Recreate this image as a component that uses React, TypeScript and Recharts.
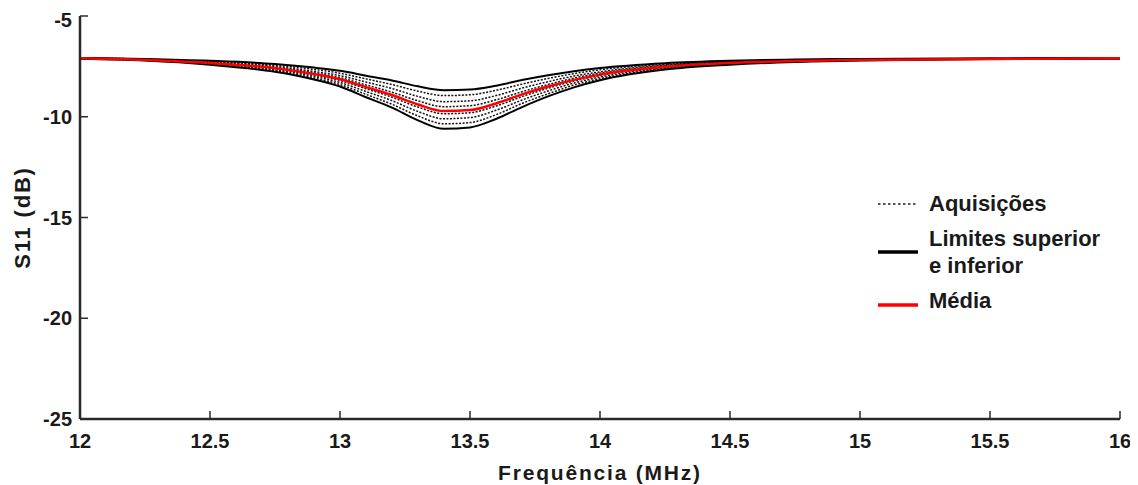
import { Legend, Line, LineChart, XAxis, YAxis } from 'recharts';

const frequencias = [
  12, 12.25, 12.5, 12.75, 12.9, 13, 13.1, 13.2, 13.3, 13.4, 13.5, 13.6, 13.7,
  13.8, 13.9, 14, 14.25, 14.5, 14.75, 15, 15.5, 16,
];

const limiteSuperior = [
  -7.08, -7.13, -7.22, -7.38, -7.56, -7.72, -7.96, -8.2, -8.49, -8.68, -8.65,
  -8.46, -8.18, -7.94, -7.74, -7.58, -7.34, -7.22, -7.16, -7.13, -7.1, -7.08,
];
const limiteInferior = [
  -7.12, -7.21, -7.42, -7.77, -8.15, -8.5, -9.03, -9.55, -10.18, -10.6, -10.53,
  -10.11, -9.52, -8.99, -8.54, -8.19, -7.66, -7.42, -7.28, -7.21, -7.14, -7.12,
];
const media = [
  -7.1, -7.18, -7.33, -7.59, -7.88, -8.14, -8.53, -8.92, -9.39, -9.72, -9.67,
  -9.34, -8.89, -8.5, -8.17, -7.91, -7.52, -7.33, -7.23, -7.18, -7.13, -7.1,
];

const aquisicao1 = [
  -7.08, -7.14, -7.27, -7.45, -7.65, -7.84, -8.12, -8.4, -8.73, -8.95, -8.91,
  -8.69, -8.38, -8.1, -7.86, -7.67, -7.4, -7.27, -7.19, -7.15, -7.12, -7.1,
];
const aquisicao2 = [
  -7.1, -7.16, -7.29, -7.51, -7.75, -7.96, -8.28, -8.6, -8.99, -9.25, -9.21,
  -8.95, -8.58, -8.26, -7.98, -7.77, -7.44, -7.29, -7.21, -7.16, -7.12, -7.1,
];
const aquisicao3 = [
  -7.1, -7.17, -7.32, -7.56, -7.82, -8.06, -8.42, -8.78, -9.21, -9.5, -9.45,
  -9.16, -8.76, -8.4, -8.08, -7.84, -7.48, -7.32, -7.22, -7.17, -7.12, -7.1,
];
const aquisicao4 = [
  -7.1, -7.18, -7.35, -7.62, -7.93, -8.2, -8.61, -9.03, -9.52, -9.85, -9.8,
  -9.47, -9.0, -8.59, -8.23, -7.95, -7.54, -7.35, -7.24, -7.18, -7.13, -7.1,
];
const aquisicao5 = [
  -7.11, -7.19, -7.37, -7.67, -8.0, -8.3, -8.75, -9.2, -9.74, -10.1, -10.04,
  -9.68, -9.17, -8.72, -8.33, -8.03, -7.58, -7.37, -7.25, -7.19, -7.13, -7.11,
];
const aquisicao6 = [
  -7.11, -7.2, -7.39, -7.72, -8.08, -8.4, -8.89, -9.38, -9.96, -10.35, -10.29,
  -9.9, -9.34, -8.86, -8.43, -8.11, -7.62, -7.39, -7.26, -7.2, -7.13, -7.11,
];

const aquisicoes = [aquisicao1, aquisicao2, aquisicao3, aquisicao4, aquisicao5, aquisicao6];

const ticksX = [12, 12.5, 13, 13.5, 14, 14.5, 15, 15.5, 16];
const ticksY = [-25, -20, -15, -10, -5];

const dados = frequencias.map((f, i) => {
  const linha: Record<string, number> = {
    f,
    sup: limiteSuperior[i],
    inf: limiteInferior[i],
    media: media[i],
  };
  aquisicoes.forEach((a, k) => {
    linha['a' + k] = a[i];
  });
  return linha;
});

const fonte = '"Liberation Sans", Arial, sans-serif';
const corEixo = '#2a2a2a';
const corTexto = '#1a1a1a';
const estiloTick = { fill: corTexto, fontSize: 20, fontWeight: 'bold', fontFamily: fonte };
const estiloRotulo = { fill: corTexto, fontSize: 21, fontWeight: 'bold', fontFamily: fonte };

const LegendaGrafico = () => {
  const texto = { fontFamily: fonte, fontWeight: 'bold', fontSize: 22, color: corTexto, lineHeight: '27px' } as const;
  const amostra = (cor: string, tracejado?: string, desloc = 0) => (
    <svg width={40} height={6} style={{ marginRight: 11, flexShrink: 0, position: 'relative', top: desloc }}>
      <line x1={0} y1={3} x2={40} y2={3} stroke={cor} strokeWidth={tracejado ? 2 : 3.5} strokeDasharray={tracejado} />
    </svg>
  );
  return (
    <div style={{ display: 'flex', flexDirection: 'column', gap: 8 }}>
      <div style={{ display: 'flex', alignItems: 'center' }}>
        {amostra('#555', '2.5 2.5')}
        <span style={texto}>Aquisições</span>
      </div>
      <div style={{ display: 'flex', alignItems: 'center' }}>
        {amostra('#000')}
        <span style={texto}>
          Limites superior
          <br />e inferior
        </span>
      </div>
      <div style={{ display: 'flex', alignItems: 'center' }}>
        {amostra('#ff0000', undefined, 4)}
        <span style={texto}>Média</span>
      </div>
    </div>
  );
};

const App = () => {
  return (
    <LineChart width={1122} height={477} data={dados} margin={{ top: 8, right: 10, left: 0, bottom: 0 }}>
      <XAxis
        dataKey="f"
        type="number"
        domain={[12, 16]}
        ticks={ticksX}
        height={66}
        tickSize={-8}
        tickMargin={23}
        tick={estiloTick}
        axisLine={{ stroke: corEixo, strokeWidth: 2.5 }}
        tickLine={{ stroke: corEixo, strokeWidth: 1.5 }}
        label={{ value: 'Frequência (MHz)', position: 'insideBottom', offset: 5, style: { ...estiloRotulo, letterSpacing: 1.8 } }}
      />
      <XAxis
        xAxisId="top"
        dataKey="f"
        orientation="top"
        type="number"
        domain={[12, 16]}
        ticks={ticksX}
        height={0}
        tickSize={-8}
        tick={false}
        axisLine={{ stroke: corEixo, strokeWidth: 2.5 }}
        tickLine={{ stroke: corEixo, strokeWidth: 1.5 }}
      />
      <YAxis
        type="number"
        domain={[-25, -5]}
        ticks={ticksY}
        width={72}
        tickSize={-8}
        tickMargin={16}
        tick={estiloTick}
        axisLine={{ stroke: corEixo, strokeWidth: 2.5 }}
        tickLine={{ stroke: corEixo, strokeWidth: 1.5 }}
        label={{ value: 'S11 (dB)', angle: -90, position: 'insideLeft', offset: 14, style: { ...estiloRotulo, fontSize: 22, textAnchor: 'middle', letterSpacing: 1.8 } }}
      />
      <YAxis
        yAxisId="right"
        orientation="right"
        type="number"
        domain={[-25, -5]}
        ticks={ticksY}
        width={0}
        tickSize={-8}
        tick={false}
        axisLine={{ stroke: corEixo, strokeWidth: 2.5 }}
        tickLine={{ stroke: corEixo, strokeWidth: 1.5 }}
      />
      <Legend
        layout="vertical"
        align="center"
        verticalAlign="middle"
        content={<LegendaGrafico />}
        wrapperStyle={{ left: 870, top: 182, width: 250 }}
      />
      {aquisicoes.map((_, k) => (
        <Line
          key={k}
          type="monotone"
          dataKey={'a' + k}
          stroke="#111"
          strokeWidth={1.5}
          strokeDasharray="2 1.5"
          dot={false}
          isAnimationActive={false}
          legendType="none"
        />
      ))}
      <Line type="monotone" dataKey="sup" stroke="#000" strokeWidth={2} dot={false} isAnimationActive={false} />
      <Line type="monotone" dataKey="inf" stroke="#000" strokeWidth={2} dot={false} isAnimationActive={false} />
      <Line type="monotone" dataKey="media" stroke="#ff0000" strokeWidth={2.5} dot={false} isAnimationActive={false} />
    </LineChart>
  );
};

export default App;
